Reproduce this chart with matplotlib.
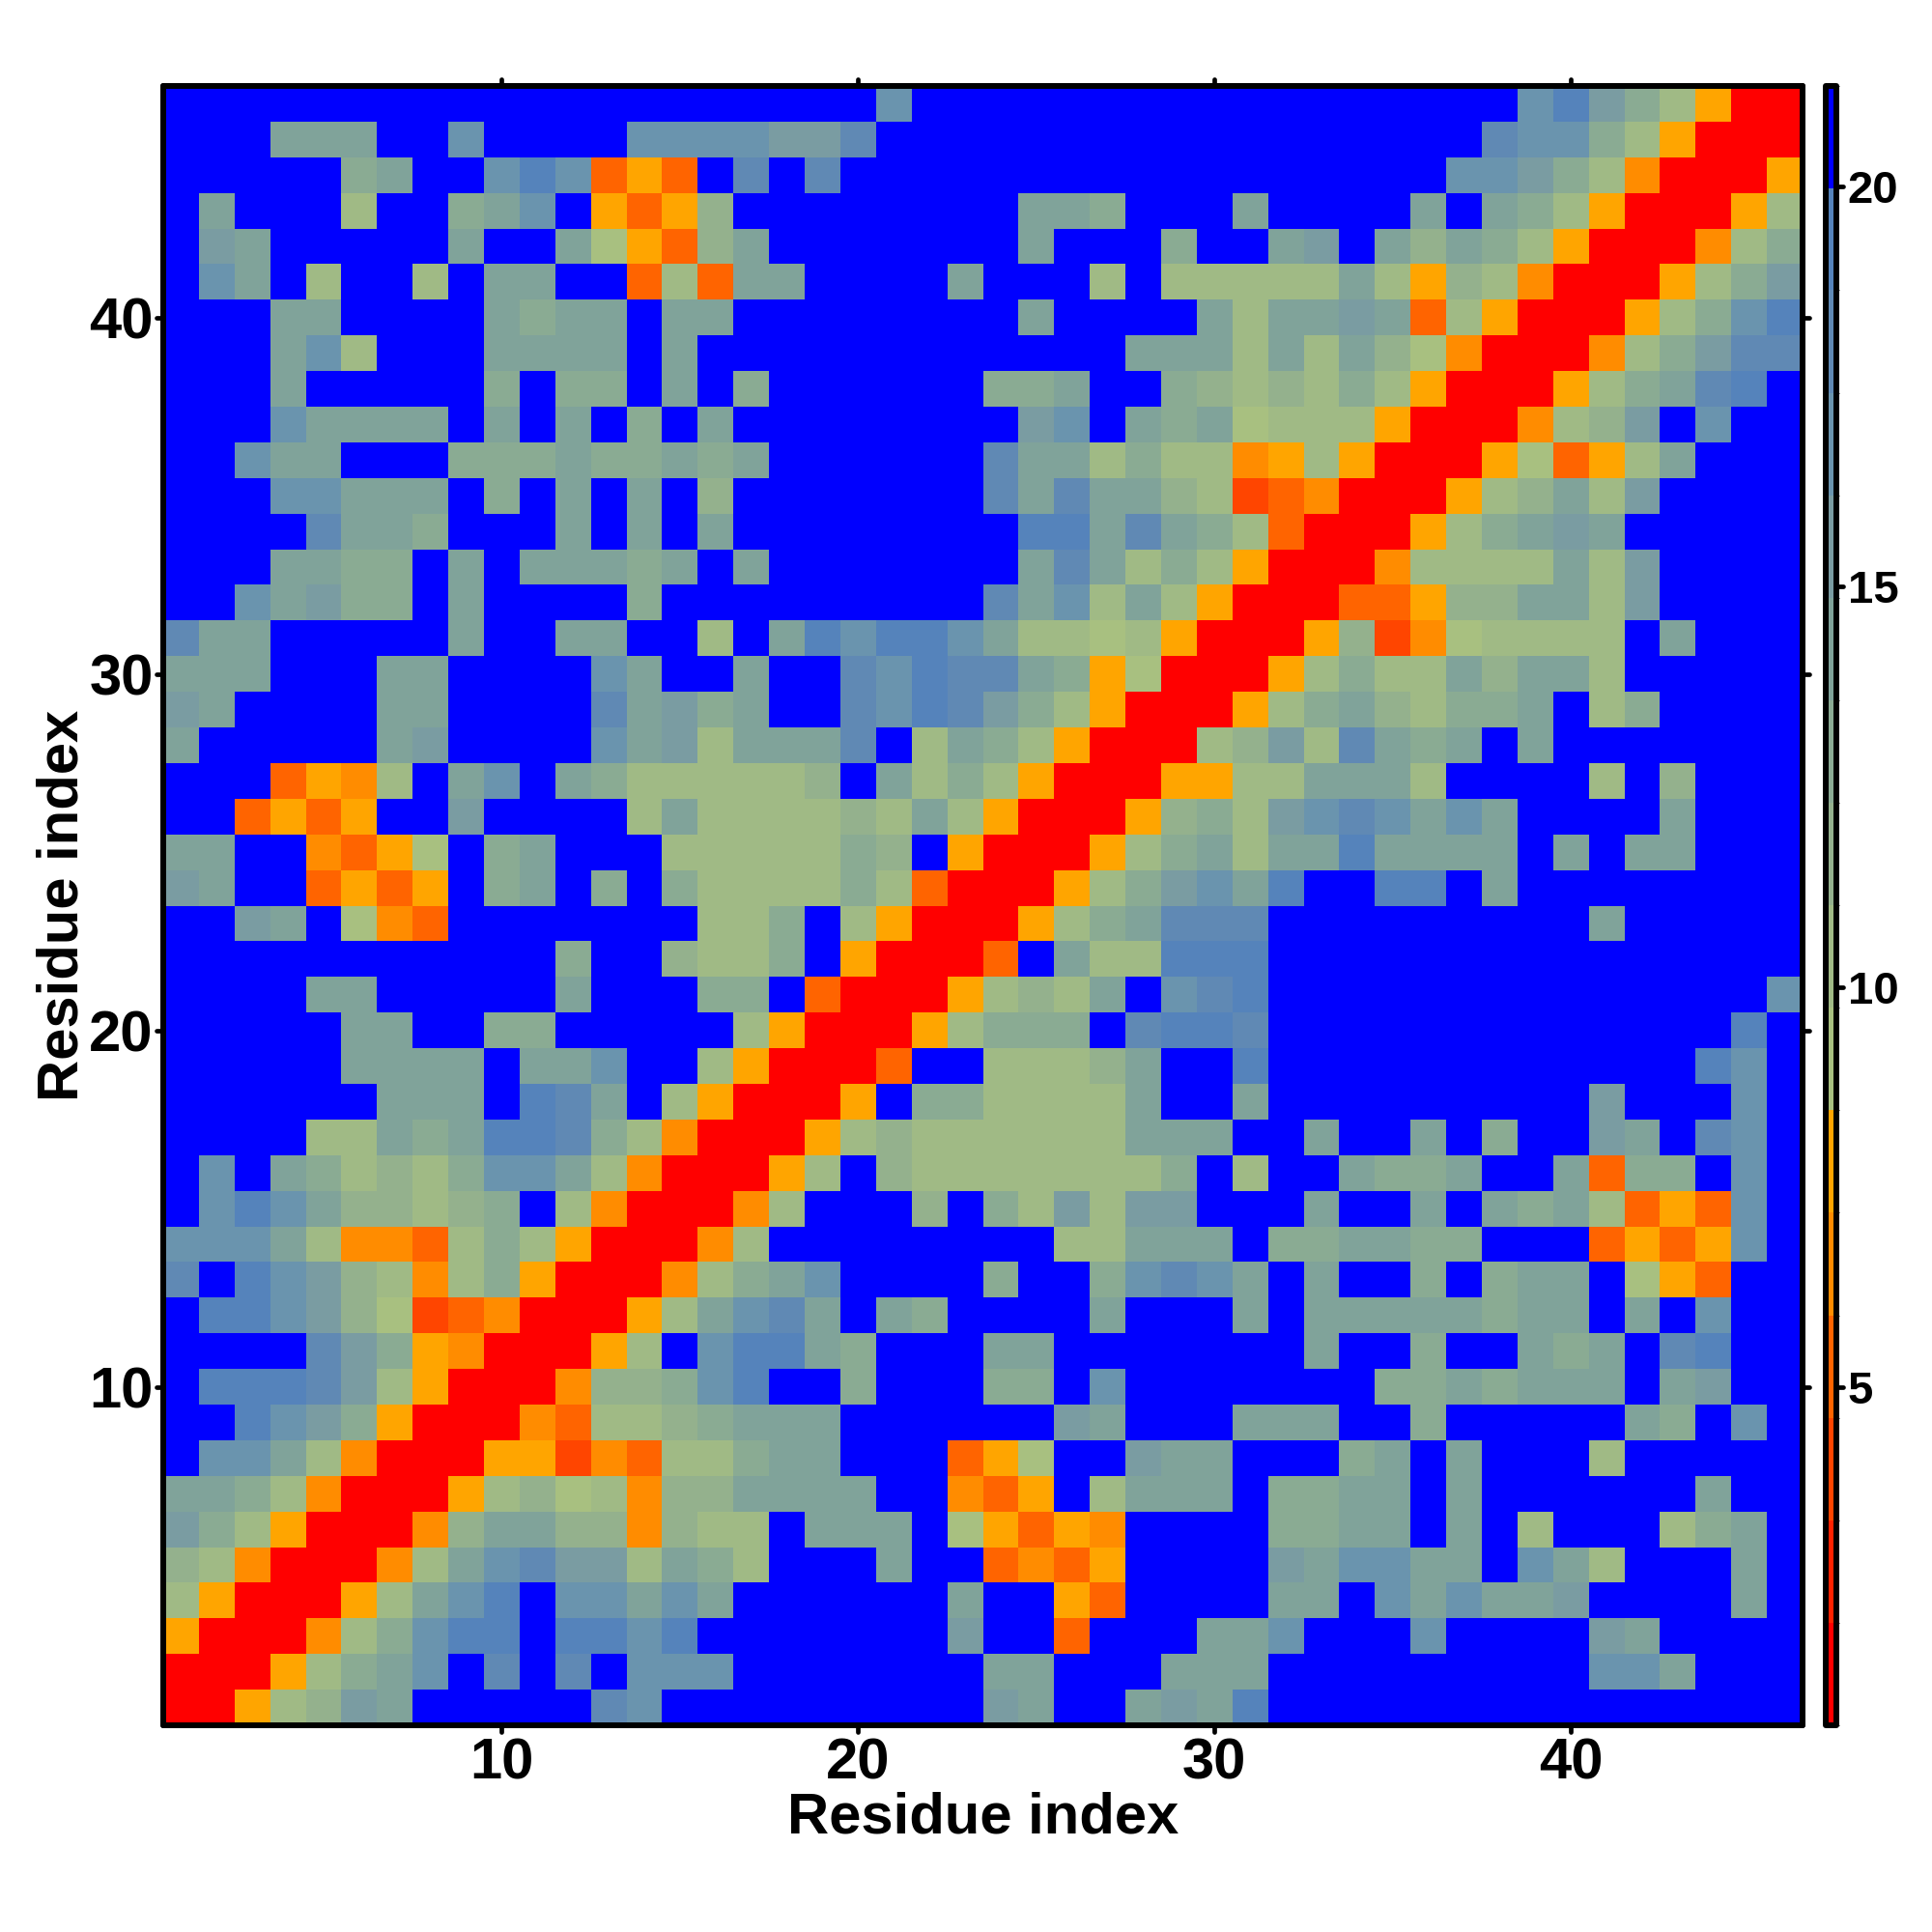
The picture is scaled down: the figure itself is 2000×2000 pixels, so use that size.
import numpy as np
import matplotlib
matplotlib.use("Agg")
import matplotlib.pyplot as plt
from matplotlib.colors import ListedColormap, BoundaryNorm
from matplotlib.markers import MarkerStyle, TICKDOWN, TICKUP, TICKLEFT, TICKRIGHT

# distance map, one text row per residue, top row (46) first.
# each char is one colour bin of the colour bar, groups of 10 columns
DIST_ROWS = [
    ".......... .......... 7......... ........79 642xRR",
    "...555..7. ...7777668 .......... .......877 42xRRR",
    ".....45..7 97vxv.8.8. .......... ......7764 2wRRRx",
    ".5...2..45 7.xvx3.... ....554... 5....5.542 xRRRx2",
    ".65.....5. .51xv35... ....5...4. .56.53542x RRRw24",
    ".75.2..2.5 5..v2v55.. ..5...2.22 22252x32wR RRx246",
    "...55....5 455.55.... ....5....5 25565v2xRR Rx2479",
    "...572...5 555.5..... .......555 252531wRRR w24688",
    "...5.....4 .44.5.4... ...445..43 23242xRRRx 24589.",
    "...75555.5 .5.4.5.... ....67.545 1222xRRRw2 36.7..",
    "..755...44 4544545... ...8552422 wx2xRRRx1v x25...",
    "...77555.4 .5.5.3.... ...8585532 uvwRRRx235 26....",
    "....8554.. .5.5.5.... ....995854 2vRRRx2456 5.....",
    "...5544.5. 55545.5... ....585242 xRRRw22225 26....",
    "..75644.5. ...4...... ...857252x RRRvvx3355 26....",
    "855.....5. .55..2.597 99752212xR RRx3uw1222 2.5...",
    "555...55.. ..75..5..8 798854x1RR Rx24225355 2.....",
    "65....55.. ..85645..8 798642xRRR x24532445. 24....",
    "5.....56.. ..75625558 .2542xRRR2 3628545.5. ......",
    "...vxw2.57 .54222223. 5242xRRRxx 225552.... 2.3...",
    "..vxvx..6. ...2522223 252xRRRx34 26787575.. ..5...",
    "55..wvx1.4 5...222224 3.xRRRx245 25595555.5 .55...",
    "65..vxvx.4 5.4.422224 2vRRRx2467 59..99.5.. ......",
    "..65.1wv.. .....224.2 xRRRx24588 8......... 5.....",
    ".......... .4..3224.x RRRv.52299 9......... ......",
    "....55.... .5...44.vR RRx2325.78 9......... .....7",
    ".....55..4 4.....2xRR Rx2444.899 8......... ....9.",
    ".....5555. 557..2xRRR v..22235.. 9......... ...97.",
    "......555. 985.2xRRRx .4422225.. 5......... 6...7.",
    "....225459 9842wRRRx2 3222222555 ..5..5.4.. 65.87.",
    ".7.5423247 752wRRRx2. 322222224. 2..5445..5 v44.7.",
    ".797533234 .2wRRRw2.. .3.426266. ..5..5.545 2vxv7.",
    "77752wwv24 2xRRRw2... .....22555 .445544... vxvx7.",
    "8.97632w24 xRRRw2457. ...4..4787 5.5..4.455 .1xv..",
    ".997631uvw RRRx25785. 54....5... 5.55555455 .5.7..",
    "....864xwR RRx2.79954 ...55..... ..5..4..54 5.89..",
    ".999862xRR Rw33479..4 ...44.7... ....445455 5.56..",
    "..9764xRRR wv2234555. .....65... 555..4.... .54.7.",
    ".7752wRRRx xuwv22455. ..vx1..655 ...45.5... 2.....",
    "5542wRRRx2 312w335555 ..wvx.2555 .4455.5... ...5..",
    "642xRRRw35 533w322.55 5.1xvxw... .4455.5.2. ..245.",
    "32wRRRw257 8662542... 5..vwvx... .657755.75 2...5.",
    "2xRRRx2579 .77575.... ..5..xv... .55.757556 ....5.",
    "xRRRw24799 .9979..... ..6..v...5 57...7.... 65....",
    "RRRx2457.8 .8.777.... ...55...55 5......... 775...",
    "RRx2365... ..87...... ...65..565 9......... ......",
]

# colour bar bins: char, distance at bin middle, colour
BIN_CHARS = ["R", "r", "u", "v", "w", "x", "1", "2", "3", "4", "5", "6", "7", "8", "9", "."]
BIN_VALUES = [1.4, 2.7, 4.0, 5.3, 6.5, 7.8, 9.1, 10.4, 11.7, 12.9, 14.2, 15.5, 16.8, 18.1, 19.3, 20.6]
BIN_COLORS = ["#ff0000", "#ff2200", "#ff4500", "#ff6400", "#ff8c00", "#ffa500",
              "#a8c080", "#a0ba85", "#94b18d", "#8aab93", "#80a39a", "#7a9ca2",
              "#6a94ae", "#6089b4", "#5583bb", "#0000ff"]
BIN_EDGES = [0.78, 2.06, 3.34, 4.62, 5.90, 7.18, 8.46, 9.74, 11.02,
             12.30, 13.58, 14.86, 16.14, 17.42, 18.70, 19.97, 21.25]

AXIS_TICKS = [10, 20, 30, 40]
BAR_TICKS = [5, 10, 15, 20]

lookup = dict(zip(BIN_CHARS, BIN_VALUES))
dist = np.array([[lookup[c] for c in row.replace(" ", "")] for row in DIST_ROWS])[::-1]
n = dist.shape[0]
edges = np.arange(n + 1) + 0.5

plt.rcParams["font.family"] = ["Liberation Sans", "DejaVu Sans"]
plt.rcParams["font.weight"] = "bold"

W = 2000.0
fig = plt.figure(figsize=(20, 20), dpi=100)
ax = fig.add_axes([169 / W, 1 - 1786 / W, 1697 / W, 1697 / W])
cax = fig.add_axes([1889.5 / W, 1 - 1786 / W, 11.5 / W, 1697 / W])

cmap = ListedColormap(BIN_COLORS)
norm = BoundaryNorm(BIN_EDGES, cmap.N)
mesh = ax.pcolormesh(edges, edges, dist, cmap=cmap, norm=norm, linewidth=0, antialiased=False)
ax.set_xlim(0.5, 46.5)
ax.set_ylim(0.5, 46.5)
ax.set_xticks(AXIS_TICKS)
ax.set_yticks(AXIS_TICKS)
ax.tick_params(axis="both", length=5, width=3.4, labelsize=43, top=True, right=True)
ax.tick_params(axis="x", pad=4)
ax.tick_params(axis="y", pad=2.5)

ax.set_xlabel("Residue index", fontsize=43, fontweight="bold")
ax.set_ylabel("Residue index", fontsize=43, fontweight="bold")
ax.xaxis.set_label_coords(0.5, -0.0405)
ax.yaxis.set_label_coords(-0.0449, 0.5)

cbar = fig.colorbar(mesh, cax=cax, ticks=BAR_TICKS, spacing="proportional", drawedges=False)
cbar.ax.tick_params(length=5, width=3.4, labelsize=34, pad=3.5)
cbar.ax.set_yticklabels([str(t) for t in BAR_TICKS])
cbar.outline.set_linewidth(4.3)
cbar.outline.set_joinstyle("round")

for sp in ax.spines.values():
    sp.set_linewidth(4.3)
    sp.set_capstyle("round")

# round ends on the tick marks
for axis, low, high in [(ax.xaxis, TICKDOWN, TICKUP), (ax.yaxis, TICKLEFT, TICKRIGHT), (cbar.ax.yaxis, TICKLEFT, TICKRIGHT)]:
    for t in axis.get_major_ticks():
        t.tick1line.set_marker(MarkerStyle(low, capstyle="round"))
        t.tick2line.set_marker(MarkerStyle(high, capstyle="round"))

fig.savefig("out.png", dpi=100, facecolor="white")
